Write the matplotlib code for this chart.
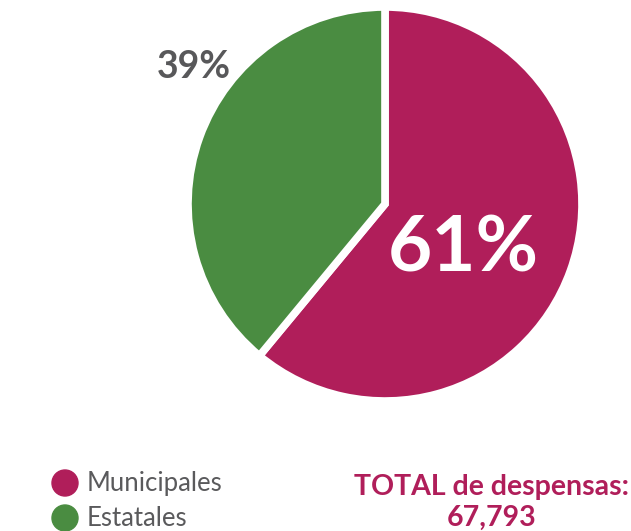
import matplotlib
matplotlib.use("Agg")
import matplotlib.pyplot as plt
from matplotlib.patches import Circle

# data
labels = ["Municipales", "Estatales"]
shares = [61, 39]
colors = ["#B01E5A", "#4A8C41"]
total_text = "67,793"

W, H = 631, 531
fig = plt.figure(figsize=(W / 100, H / 100), dpi=100)
ax = fig.add_axes([0, 0, 1, 1])

cx, cy, r = 385, H - 204, 197
ax.pie(shares, colors=colors, startangle=90, counterclock=False,
       center=(cx, cy), radius=r, frame=True,
       wedgeprops=dict(edgecolor="white", linewidth=5.5))
ax.set_xlim(0, W)
ax.set_ylim(0, H)
ax.set_aspect("equal")
ax.axis("off")

ax.text(463, H - 250, f"{shares[0]}%", color="white", fontsize=55,
        fontweight="bold", family="Lato", ha="center", va="center")
ax.text(194, H - 67, f"{shares[1]}%", color="#58585a", fontsize=27,
        fontweight="bold", family="Lato", ha="center", va="center")

# legend
for i, (lab, col) in enumerate(zip(labels, colors)):
    y = H - (483 + 35 * i)
    ax.add_patch(Circle((65, y), 13, color=col))
    ax.text(87, y, lab, color="#5a5a5c", fontsize=18.5, fontweight="normal",
            family="Lato", ha="left", va="center")

ax.text(492, H - 487, "TOTAL de despensas:", color=colors[0], fontsize=20.5,
        fontweight="bold", family="Lato", ha="center", va="center")
ax.text(492, H - 518, total_text, color=colors[0], fontsize=20.5,
        fontweight="bold", family="Lato", ha="center", va="center")

fig.savefig("out.png", dpi=100)
